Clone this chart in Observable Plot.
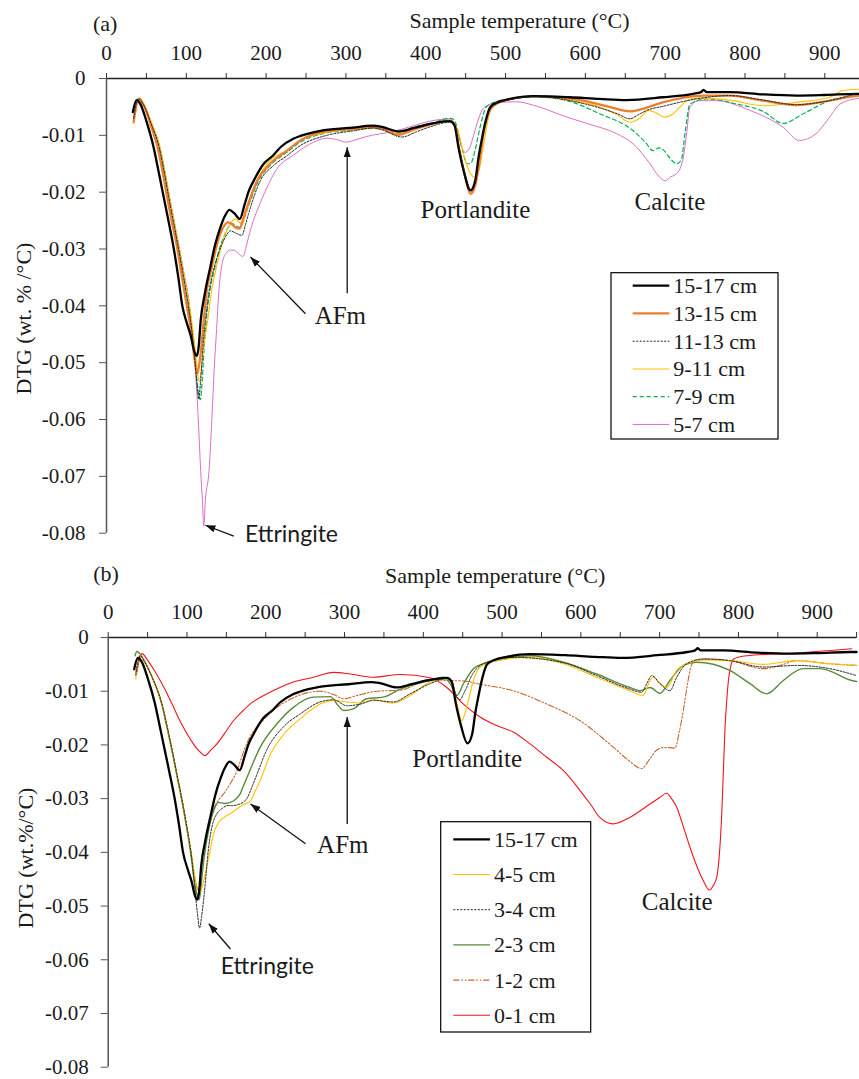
<!DOCTYPE html>
<html><head><meta charset="utf-8">
<script src="https://cdn.jsdelivr.net/npm/d3@7"></script>
<script src="https://cdn.jsdelivr.net/npm/@observablehq/plot@0.6"></script>
<style>
html,body{margin:0;padding:0;background:#fff;}
#wrap{width:859px;height:1079px;position:relative;overflow:hidden;background:#fff;}
#wrap svg{display:block;}
</style></head><body><div id="wrap"></div>
<script>
// ---------- DATA (temperature °C, DTG wt.%/°C) ----------
const xTicks = d3.range(0, 951, 50);
const yTicks = [0, -0.01, -0.02, -0.03, -0.04, -0.05, -0.06, -0.07, -0.08];

const s1517 = [[33,-0.0059],[37.6,-0.0038],[42.5,-0.0045],[50,-0.0075],[59,-0.0121],[65,-0.0162],[71.7,-0.0209],[78,-0.0253],[84,-0.0297],[90,-0.035],[95,-0.040],[101,-0.0432],[106,-0.0455],[110,-0.048],[113,-0.0488],[115.5,-0.0472],[118,-0.0426],[123,-0.038],[130,-0.0332],[136,-0.0293],[142.7,-0.0262],[148,-0.0243],[154,-0.0231],[160,-0.0237],[167,-0.0247],[173,-0.0222],[178,-0.0199],[184.4,-0.018],[197,-0.015],[209,-0.0135],[218,-0.0121],[234,-0.0106],[243,-0.0101],[268,-0.0092],[305,-0.0087],[334,-0.0083],[345,-0.0085],[366,-0.0093],[385,-0.0087],[405,-0.008],[430,-0.0075],[436,-0.0082],[441,-0.0121],[448,-0.0165],[456,-0.0197],[462,-0.018],[466,-0.014],[470,-0.0109],[475,-0.0075],[481,-0.005],[490,-0.0042],[506,-0.0036],[535,-0.0031],[580,-0.0033],[618,-0.0036],[652,-0.0038],[697,-0.0033],[735,-0.0027],[745,-0.0024],[748,-0.002],[752,-0.0024],[781,-0.0024],[823,-0.0028],[864,-0.003],[900,-0.0029],[942,-0.0027],[950,-0.0027]];

const a1315 = [[34,-0.0077],[40.5,-0.0036],[47,-0.0048],[55,-0.008],[64,-0.0121],[70,-0.0162],[76,-0.0209],[82,-0.0253],[88.5,-0.0297],[94,-0.0345],[100,-0.0395],[106,-0.0445],[110,-0.049],[113.5,-0.052],[116,-0.0505],[119,-0.047],[121.8,-0.0426],[126,-0.037],[132,-0.0332],[137,-0.03],[142.7,-0.0273],[147,-0.026],[151.8,-0.0253],[157,-0.0256],[161.5,-0.0262],[166.8,-0.0264],[171,-0.0248],[176,-0.0227],[188.6,-0.018],[205,-0.015],[226,-0.0127],[242.8,-0.0109],[268,-0.0095],[305,-0.0089],[334.5,-0.0086],[345,-0.0088],[366,-0.0099],[385,-0.009],[405.5,-0.0081],[430,-0.0074],[437,-0.0085],[442,-0.0125],[449,-0.017],[456,-0.0203],[462,-0.0188],[467,-0.015],[472,-0.01],[477,-0.0068],[485,-0.0048],[506,-0.0036],[535,-0.0031],[597,-0.0039],[630,-0.005],[656,-0.0058],[675,-0.0052],[697,-0.0042],[748,-0.003],[781,-0.003],[823,-0.0039],[864,-0.0047],[906,-0.0039],[942,-0.003],[950,-0.0029]];

const a1113 = [[34,-0.007],[40,-0.0036],[47,-0.0048],[56,-0.008],[66,-0.0121],[72,-0.0162],[78,-0.0209],[84,-0.0253],[90,-0.0297],[96,-0.0345],[102,-0.0395],[107,-0.0445],[111,-0.05],[113.5,-0.054],[115.5,-0.0564],[118,-0.053],[121,-0.047],[124,-0.0426],[129,-0.037],[135,-0.0332],[141,-0.0305],[146.8,-0.0285],[151,-0.0274],[155,-0.0268],[162,-0.0272],[169.8,-0.0276],[174,-0.0258],[178,-0.0238],[192.7,-0.018],[209.4,-0.0153],[226,-0.0136],[242.8,-0.0118],[276,-0.01],[309.5,-0.0092],[334.5,-0.0087],[345,-0.009],[370,-0.0103],[388,-0.0094],[405.5,-0.0085],[430,-0.0077],[437,-0.0086],[442,-0.0123],[449,-0.0167],[457,-0.0198],[462,-0.0183],[466,-0.0145],[470,-0.011],[475,-0.0075],[481,-0.0052],[490,-0.0043],[506,-0.0037],[535,-0.0032],[600,-0.0045],[640,-0.0062],[656,-0.0071],[666,-0.0064],[677,-0.0056],[697,-0.0049],[739,-0.0036],[781,-0.003],[823,-0.0038],[864,-0.0046],[906,-0.0039],[942,-0.0027],[950,-0.0026]];

const a911 = [[34,-0.007],[41,-0.0034],[48,-0.0048],[57,-0.008],[67,-0.0121],[73,-0.0162],[79,-0.0209],[85,-0.0253],[91,-0.0297],[97,-0.0345],[103,-0.039],[108,-0.044],[112,-0.049],[116.3,-0.0533],[119,-0.051],[122,-0.047],[126.8,-0.0426],[131,-0.038],[137.7,-0.0332],[143,-0.03],[149,-0.0273],[155,-0.0256],[161.5,-0.0247],[166,-0.0252],[169.8,-0.0257],[174,-0.024],[178,-0.0221],[190.6,-0.0174],[207,-0.0141],[226,-0.0127],[242.8,-0.0109],[268,-0.0097],[305,-0.009],[334.5,-0.0087],[345,-0.0089],[366,-0.0097],[385,-0.0088],[405.5,-0.008],[430,-0.0074],[440,-0.009],[447,-0.013],[455,-0.0165],[462,-0.0174],[467,-0.016],[472,-0.0121],[477,-0.008],[481,-0.0056],[490,-0.0042],[506,-0.0036],[535,-0.0031],[580,-0.0038],[618,-0.005],[640,-0.0064],[656,-0.0077],[668,-0.007],[679,-0.0056],[688,-0.006],[699,-0.0068],[710,-0.0062],[720,-0.0048],[727,-0.0039],[743,-0.0034],[785,-0.0039],[823,-0.0048],[864,-0.0042],[906,-0.0033],[923,-0.0021],[942,-0.0019],[950,-0.0019]];

const a79 = [[34,-0.0072],[40.5,-0.0035],[47,-0.0048],[56,-0.008],[66,-0.0121],[72,-0.0162],[78.5,-0.0209],[84.5,-0.0253],[90.5,-0.0297],[96.5,-0.0345],[102.5,-0.0395],[108,-0.045],[112,-0.051],[115,-0.055],[117.6,-0.0565],[120,-0.053],[122.5,-0.047],[125,-0.0426],[130,-0.037],[136,-0.0332],[141,-0.0302],[146.8,-0.0279],[152,-0.0263],[157,-0.0255],[162,-0.0259],[167.7,-0.0262],[172,-0.0248],[176,-0.0232],[190.6,-0.018],[207,-0.015],[226,-0.013],[242.8,-0.0112],[268,-0.0098],[305,-0.0091],[334.5,-0.0088],[345,-0.0089],[366,-0.0096],[385,-0.0086],[405.5,-0.0079],[432,-0.007],[438,-0.008],[445,-0.0121],[452,-0.015],[456,-0.015],[462,-0.0125],[468,-0.0086],[476,-0.005],[490,-0.004],[506,-0.0036],[535,-0.0032],[577,-0.0039],[618,-0.0062],[660,-0.0092],[675,-0.0112],[685,-0.0127],[692,-0.0122],[698,-0.0126],[706,-0.014],[714,-0.015],[720,-0.0144],[725,-0.0095],[731,-0.0045],[752,-0.0036],[790,-0.0045],[823,-0.0058],[848,-0.0079],[873,-0.0062],[906,-0.0039],[942,-0.003],[950,-0.0029]];

const a57 = [[34,-0.0075],[40,-0.0035],[47,-0.0047],[57,-0.008],[67,-0.0121],[73,-0.0162],[79,-0.0209],[85,-0.0253],[91,-0.0297],[97.5,-0.0345],[104,-0.04],[108,-0.046],[111.5,-0.0514],[115,-0.06],[118,-0.069],[120.5,-0.075],[121.8,-0.0787],[124,-0.074],[128.5,-0.069],[132,-0.06],[135,-0.051],[138,-0.044],[141,-0.037],[145,-0.0325],[150,-0.0307],[155,-0.0302],[160,-0.0302],[165,-0.0308],[171,-0.0313],[175,-0.0296],[178,-0.0279],[184,-0.025],[190,-0.0228],[200,-0.0195],[213,-0.016],[234,-0.0135],[259.5,-0.0112],[276,-0.0105],[290,-0.0108],[300,-0.0112],[312,-0.0108],[326,-0.0102],[360,-0.0093],[385,-0.0083],[405.5,-0.0075],[430,-0.0071],[438,-0.0085],[444,-0.0115],[449,-0.013],[455,-0.0122],[460,-0.01],[464,-0.008],[474,-0.005],[493,-0.0042],[514,-0.0041],[535,-0.0047],[577,-0.0068],[604,-0.008],[639,-0.0097],[660,-0.0115],[681,-0.015],[692,-0.0172],[700,-0.018],[707,-0.0173],[714,-0.0168],[722,-0.0144],[727,-0.0095],[731,-0.005],[743,-0.0039],[764,-0.0039],[806,-0.0056],[848,-0.0086],[868,-0.0109],[889,-0.0097],[906,-0.0068],[919,-0.0045],[942,-0.0035],[950,-0.0034]];

const b45 = [[35,-0.0077],[40.6,-0.0034],[46,-0.0045],[50,-0.0056],[57.5,-0.008],[63,-0.01],[69.4,-0.013],[74,-0.016],[78.7,-0.0192],[83,-0.0222],[87.2,-0.0254],[91.5,-0.0285],[95.6,-0.0316],[99,-0.0345],[102.5,-0.0375],[106,-0.0405],[110,-0.0445],[113.5,-0.0468],[116.8,-0.0474],[120,-0.046],[125,-0.0428],[129,-0.04],[133.6,-0.0366],[138,-0.035],[142,-0.0341],[150,-0.0332],[159,-0.0324],[166,-0.0316],[172,-0.0311],[180,-0.0305],[186,-0.0288],[193,-0.0266],[206,-0.0217],[222,-0.0182],[244,-0.0151],[269,-0.0124],[286,-0.0117],[303,-0.012],[320,-0.0122],[337,-0.0116],[362,-0.0122],[383,-0.0108],[408.6,-0.0083],[430,-0.0077],[438,-0.0093],[443,-0.0125],[448.8,-0.0155],[455,-0.013],[463.6,-0.008],[472,-0.0055],[493,-0.0043],[535.5,-0.0037],[578,-0.0049],[620,-0.0074],[662,-0.0099],[679,-0.0108],[687.8,-0.008],[692,-0.0074],[700.5,-0.0086],[709,-0.0093],[721.7,-0.0061],[734,-0.0049],[755.5,-0.0042],[789,-0.0043],[831.6,-0.005],[874,-0.0043],[916,-0.0049],[950,-0.0052]];

const b34 = [[35,-0.007],[40.6,-0.0034],[46,-0.0045],[50,-0.0056],[57.5,-0.008],[63,-0.01],[69.4,-0.013],[74,-0.016],[78.7,-0.0192],[83,-0.0222],[87.2,-0.0254],[91.5,-0.0285],[95.6,-0.0316],[99,-0.0345],[102.5,-0.0375],[106,-0.041],[109.5,-0.046],[113,-0.051],[116,-0.0541],[118.5,-0.052],[121,-0.049],[124,-0.0445],[127,-0.0397],[133,-0.0345],[138,-0.0328],[145,-0.0318],[151,-0.0313],[158,-0.0313],[165,-0.0311],[172,-0.0306],[176,-0.03],[182,-0.028],[189,-0.0254],[201,-0.021],[222,-0.0167],[244,-0.0142],[269,-0.012],[286,-0.0116],[303,-0.0127],[320,-0.0124],[337,-0.0117],[362,-0.012],[383,-0.0105],[408.6,-0.0086],[430,-0.0076],[437,-0.0085],[442.5,-0.0111],[446.7,-0.0116],[451,-0.0105],[455,-0.0093],[460,-0.0075],[466,-0.0061],[480.6,-0.0046],[514,-0.0037],[578,-0.0047],[620,-0.0071],[662,-0.0096],[677,-0.0102],[683.6,-0.0086],[690,-0.0071],[700.5,-0.0086],[713,-0.0099],[721.7,-0.0074],[734,-0.0049],[755.5,-0.004],[789,-0.0043],[831.6,-0.0055],[874,-0.0052],[916,-0.0058],[950,-0.0071]];

const b23 = [[34,-0.0034],[36.4,-0.0026],[40,-0.003],[46,-0.0044],[50,-0.0055],[57.5,-0.008],[63,-0.01],[69,-0.013],[73.5,-0.016],[78.2,-0.0192],[82.5,-0.0222],[86.7,-0.0254],[91,-0.0285],[95,-0.0316],[98.5,-0.0345],[102,-0.0375],[105.5,-0.041],[109,-0.045],[112.5,-0.0478],[115.5,-0.0488],[117.5,-0.047],[119,-0.0445],[123,-0.0397],[128,-0.0355],[134,-0.0322],[140,-0.0307],[148,-0.0309],[155,-0.0307],[161,-0.0302],[167.5,-0.0291],[172,-0.0275],[178,-0.0254],[193,-0.0204],[214,-0.0161],[235,-0.013],[260,-0.0111],[282,-0.011],[291,-0.0125],[299,-0.0136],[311,-0.0133],[328,-0.0114],[349,-0.0111],[371,-0.0096],[408.6,-0.008],[425.5,-0.0074],[434,-0.0086],[442.5,-0.0108],[451,-0.0086],[463.6,-0.0058],[476,-0.0049],[493,-0.0043],[535.5,-0.0034],[578,-0.0046],[620,-0.0068],[662,-0.0093],[675,-0.0099],[687.8,-0.0093],[700.5,-0.0104],[713,-0.008],[730,-0.0052],[747,-0.0046],[789,-0.0061],[814.7,-0.0086],[836,-0.0105],[857,-0.008],[882,-0.0058],[903.6,-0.0058],[943.8,-0.008],[950,-0.0082]];

const b12 = [[35,-0.0065],[40.6,-0.0033],[46,-0.0044],[50,-0.0055],[57.5,-0.008],[63,-0.01],[69.2,-0.013],[73.7,-0.016],[78.4,-0.0192],[82.7,-0.0222],[87,-0.0254],[91.2,-0.0285],[95.3,-0.0316],[98.8,-0.0345],[102.3,-0.0375],[106,-0.041],[109.5,-0.0445],[112.5,-0.0465],[114.6,-0.0471],[116.5,-0.0458],[118,-0.043],[123,-0.038],[129,-0.034],[135,-0.0315],[140,-0.0303],[147,-0.029],[155,-0.0272],[163,-0.025],[172,-0.0212],[180,-0.0185],[193,-0.016],[210,-0.0135],[235,-0.0112],[269,-0.01],[286,-0.0106],[299,-0.0114],[316,-0.0108],[341,-0.01],[371,-0.0098],[408.6,-0.0078],[430,-0.008],[451,-0.0081],[472,-0.0087],[514,-0.0099],[556.7,-0.0124],[599,-0.0155],[641,-0.0204],[660,-0.0228],[677,-0.0244],[688,-0.0225],[696,-0.021],[704.7,-0.0205],[712,-0.0205],[719.5,-0.0206],[725,-0.0175],[730,-0.0136],[735,-0.009],[738.6,-0.0061],[743,-0.0045],[759.8,-0.004],[789,-0.0043],[831.6,-0.0058],[852.8,-0.0052],[874,-0.0043],[916,-0.0049],[950,-0.0052]];

const b01 = [[36.4,-0.0065],[42.8,-0.003],[50,-0.0042],[58,-0.006],[66,-0.008],[75,-0.0105],[83,-0.013],[90,-0.0152],[97.7,-0.0173],[105,-0.0191],[112.6,-0.0207],[118,-0.0215],[123,-0.022],[130,-0.021],[138,-0.0198],[148,-0.0178],[159,-0.0155],[170,-0.0138],[180,-0.0124],[201,-0.0105],[218,-0.0093],[235,-0.0083],[260.5,-0.0074],[286,-0.0065],[307,-0.0068],[336.7,-0.0074],[370.6,-0.0069],[408.6,-0.0075],[429.8,-0.0093],[451,-0.0124],[472,-0.0148],[493,-0.0164],[514,-0.0176],[535.5,-0.0198],[556.7,-0.0223],[578,-0.0248],[599,-0.0285],[612,-0.031],[624,-0.0335],[641,-0.0347],[662,-0.0335],[687.8,-0.031],[700,-0.0298],[709,-0.029],[715,-0.03],[721.7,-0.0316],[730,-0.0352],[738.6,-0.0391],[747,-0.0425],[755.5,-0.0453],[763,-0.047],[768,-0.0462],[772.5,-0.0446],[776,-0.04],[779,-0.0322],[781,-0.0245],[783,-0.0167],[785,-0.012],[787.3,-0.008],[790,-0.0055],[793.6,-0.004],[810.5,-0.0034],[874,-0.0029],[943.8,-0.0021]];

const namesA = ["15-17 cm", "13-15 cm", "11-13 cm", "9-11 cm", "7-9 cm", "5-7 cm"];
const valuesA = [s1517, a1315, a1113, a911, a79, a57];
const namesB = ["15-17 cm", "4-5 cm", "3-4 cm", "2-3 cm", "1-2 cm", "0-1 cm"];
const valuesB = [s1517, b45, b34, b23, b12, b01];

const labelsA = [{label: "Portlandite", T: 462.3, v: -0.0232}, {label: "Calcite", T: 706, v: -0.0218}, {label: "AFm", T: 293, v: -0.0417}];
const ettA = [{label: "Ettringite", T: 231.8, v: -0.0802}];
const arrowsA = [{T1: 249.3, v1: -0.0414, T2: 180.4, v2: -0.0314}, {T1: 301.6, v1: -0.0378, T2: 301.6, v2: -0.0121}, {T1: 159.5, v1: -0.0805, T2: 124, v2: -0.0786}];
const labelsB = [{label: "Portlandite", T: 455.7, v: -0.0227}, {label: "Calcite", T: 722.3, v: -0.0493}, {label: "AFm", T: 297.8, v: -0.0387}];
const ettB = [{label: "Ettringite", T: 202, v: -0.0612}];
const arrowsB = [{T1: 250.5, v1: -0.0384, T2: 180.6, v2: -0.031}, {T1: 303.4, v1: -0.0347, T2: 303.4, v2: -0.0148}, {T1: 155.2, v1: -0.058, T2: 127.7, v2: -0.0533}];

// ---------- STYLES ----------
const stylesA = [
  {stroke: "#000000", w: 2.3},
  {stroke: "#ED7D31", w: 2.3},
  {stroke: "#222222", w: 1, dash: "2 1.5"},
  {stroke: "#FFC000", w: 1.1},
  {stroke: "#00B050", w: 1.2, dash: "4 3"},
  {stroke: "#DA70C8", w: 1}
];
const stylesB = [
  {stroke: "#000000", w: 2.3},
  {stroke: "#FFC000", w: 1.1},
  {stroke: "#222222", w: 1, dash: "2 1.5"},
  {stroke: "#5A8A3A", w: 1.4},
  {stroke: "#C8642A", w: 1.1, dash: "6 2 1.5 2 1.5 2"},
  {stroke: "#F0141E", w: 1.1}
];
const SERIF = "'Liberation Serif', 'Times New Roman', serif";
const TXT = "#1a1a1a";

function headMarker(color, context) {
  const doc = (context && context.document) || document;
  const ns = "http://www.w3.org/2000/svg";
  const m = doc.createElementNS(ns, "marker");
  m.setAttribute("viewBox", "-10 -5 10 10");
  m.setAttribute("markerWidth", 10);
  m.setAttribute("markerHeight", 10);
  m.setAttribute("markerUnits", "userSpaceOnUse");
  m.setAttribute("orient", "auto");
  m.setAttribute("refX", 0);
  m.setAttribute("refY", 0);
  const p = doc.createElementNS(ns, "path");
  p.setAttribute("d", "M-10,-3.6L0,0L-10,3.6Z");
  p.setAttribute("fill", color);
  p.setAttribute("stroke", "none");
  m.appendChild(p);
  return m;
}

function panel(cfg) {
  const rows = cfg.names.map((name, i) => cfg.values[i].map(([T, v]) => ({series: name, T, v}))).flat();
  const lineMarks = cfg.order.map(i => Plot.line(rows.filter(r => r.series === cfg.names[i]), {
    x: "T", y: "v", stroke: cfg.styles[i].stroke, strokeWidth: cfg.styles[i].w,
    strokeDasharray: cfg.styles[i].dash, curve: "monotone-x", strokeLinejoin: "round"
  }));
  const svg = Plot.plot({
    width: 859, height: cfg.height,
    marginLeft: cfg.x0, marginRight: 859 - cfg.x1, marginTop: cfg.y0, marginBottom: cfg.height - cfg.y1,
    x: {domain: [0, 950], range: [cfg.x0, cfg.x1], label: null},
    y: {domain: [-0.08, 0], range: [cfg.y1, cfg.y0], label: null},
    style: {fontFamily: SERIF, fontSize: "21px", color: TXT, background: "#fff", overflow: "visible"},
    marks: [
      Plot.axisX({anchor: "top", ticks: xTicks, tickFormat: d => d % 100 === 0 ? String(d) : "", tickSize: 6, tickPadding: 12.5, fontSize: 21, stroke: "#333", label: null}),
      Plot.axisY({anchor: "left", ticks: yTicks, tickFormat: d => d === 0 ? "0" : d.toFixed(2), tickSize: 7, tickPadding: cfg.yPad, fontSize: 21, stroke: "#555", label: null}),
      ...lineMarks,
      Plot.ruleY([0], {x1: 0, x2: 950, stroke: "#222", strokeWidth: 1.3}),
      Plot.ruleX([0], {y1: -0.08, y2: 0, stroke: "#555", strokeWidth: 1.5}),
      Plot.link(cfg.arrows, {x1: "T1", y1: "v1", x2: "T2", y2: "v2", stroke: "#111", strokeWidth: 1.3, markerEnd: headMarker}),
      Plot.text(cfg.labels, {x: "T", y: "v", text: "label", fontSize: 25, fontFamily: SERIF, fill: TXT}),
      Plot.text(cfg.ett, {x: "T", y: "v", text: "label", fontSize: 23, fontFamily: "Lato, 'Liberation Sans', sans-serif", fill: TXT})
    ]
  });
  const s = d3.select(svg);
  s.append("text").attr("x", cfg.tag.x).attr("y", cfg.tag.y).attr("text-anchor", "start").attr("font-size", 22).attr("font-family", SERIF).attr("fill", TXT).text(cfg.tag.text);
  s.append("text").attr("x", cfg.xt.x).attr("y", cfg.xt.y).attr("text-anchor", "middle").attr("font-size", 22).attr("font-family", SERIF).attr("fill", TXT).text("Sample temperature (°C)");
  s.append("text").attr("transform", `translate(${cfg.yt.x},${cfg.yt.y}) rotate(-90)`).attr("text-anchor", "middle").attr("font-size", 22).attr("font-family", SERIF).attr("fill", TXT).text(cfg.yt.text);
  const L = cfg.legend;
  const g = s.append("g").attr("text-anchor", "start");
  g.append("rect").attr("x", L.x).attr("y", L.y).attr("width", L.w).attr("height", L.h).attr("fill", "#fff").attr("stroke", "#000").attr("stroke-width", 1.2);
  cfg.names.forEach((name, i) => {
    const yy = L.row0 + i * L.dy;
    const st = cfg.styles[i];
    g.append("line").attr("x1", L.lx1).attr("x2", L.lx2).attr("y1", yy).attr("y2", yy)
      .attr("stroke", st.stroke).attr("stroke-width", st.w).attr("stroke-dasharray", st.dash || null);
    g.append("text").attr("x", L.tx).attr("y", yy + 7.5).attr("text-anchor", "start").attr("font-size", 22).attr("font-family", SERIF).attr("fill", TXT).text(name);
  });
  return svg;
}

const wrap = document.getElementById("wrap");
wrap.appendChild(panel({
  names: namesA, values: valuesA, styles: stylesA, order: [5, 4, 3, 1, 0, 2],
  height: 560, x0: 106, x1: 864.2, y0: 78, y1: 532.7, yPad: 14,
  arrows: arrowsA, labels: labelsA, ett: ettA,
  tag: {x: 93, y: 31, text: "(a)"},
  xt: {x: 519.5, y: 27.5},
  yt: {x: 31, y: 318.5, text: "DTG (wt. % /°C)"},
  legend: {x: 611, y: 272.7, w: 167, h: 166.3, row0: 285.7, dy: 27.75, lx1: 632.7, lx2: 669.3, tx: 673.3}
}));
wrap.appendChild(panel({
  names: namesB, values: valuesB, styles: stylesB, order: [5, 4, 3, 1, 2, 0],
  height: 519, x0: 107.7, x1: 856.1, y0: 77, y1: 506.7, yPad: 12.5,
  arrows: arrowsB, labels: labelsB, ett: ettB,
  tag: {x: 93.3, y: 20.5, text: "(b)"},
  xt: {x: 495.2, y: 22.7},
  yt: {x: 32.5, y: 298, text: "DTG (wt.%/°C)"},
  legend: {x: 440.7, y: 261.7, w: 150, h: 210.3, row0: 279.3, dy: 35.2, lx1: 453.3, lx2: 490, tx: 494}
}));
</script></body></html>
